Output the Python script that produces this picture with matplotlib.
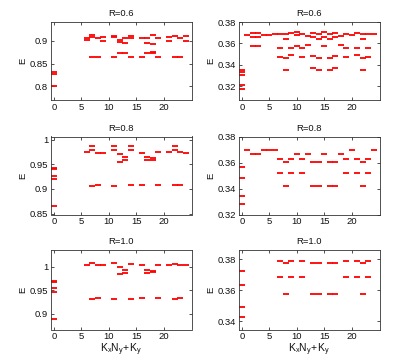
import matplotlib
matplotlib.use("Agg")
import matplotlib.pyplot as plt
from matplotlib.ticker import FuncFormatter

plt.rcParams['font.family'] = ['Liberation Sans', 'DejaVu Sans']
plt.rcParams['mathtext.default'] = 'regular'

titles = ["R=0.6", "R=0.6", "R=0.8", "R=0.8", "R=1.0", "R=1.0"]

# Panel 1 (R=0.6, left)
x_p1 = [0, 0, 0, 6, 6, 7, 7, 7, 8, 8, 9, 9, 11, 11, 11, 12, 12, 12, 13, 13, 13,
        14, 14, 14, 16, 16, 17, 17, 17, 18, 18, 18, 18, 19, 19, 21, 21, 22, 22,
        23, 23, 24, 24]
e_p1 = [0.832, 0.827, 0.800, 0.907, 0.901, 0.912, 0.908, 0.865, 0.906, 0.865,
        0.909, 0.900, 0.911, 0.909, 0.865, 0.901, 0.897, 0.872, 0.906, 0.896,
        0.872, 0.911, 0.907, 0.865, 0.906, 0.865, 0.906, 0.895, 0.872, 0.912,
        0.893, 0.876, 0.872, 0.905, 0.865, 0.909, 0.900, 0.911, 0.865, 0.905,
        0.865, 0.911, 0.899]

# Panel 2 (R=0.6, right)
x_p2 = [0, 0, 0, 0, 0, 1, 2, 2, 2, 3, 3, 3, 4, 5, 6, 7, 7, 7, 8, 8, 8, 8,
        9, 9, 9, 10, 10, 10, 11, 11, 11, 12, 12, 13, 13, 13, 13, 14, 14, 14, 14,
        15, 15, 15, 16, 16, 16, 16, 17, 17, 17, 17, 18, 18, 19, 19, 19, 20,
        21, 21, 21, 22, 22, 22, 22, 23, 23, 23, 24]
e_p2 = [0.3355, 0.3333, 0.3300, 0.3209, 0.3169, 0.3682, 0.3700, 0.3660, 0.3580,
        0.3700, 0.3660, 0.3580, 0.3680, 0.3680, 0.3688, 0.3688, 0.3554, 0.3477,
        0.3688, 0.3644, 0.3467, 0.3352, 0.3694, 0.3560, 0.3495, 0.3704, 0.3680,
        0.3576, 0.3688, 0.3554, 0.3477, 0.3670, 0.3589, 0.3694, 0.3663, 0.3480,
        0.3368, 0.3685, 0.3644, 0.3464, 0.3352, 0.3704, 0.3663, 0.3576, 0.3685,
        0.3641, 0.3467, 0.3352, 0.3694, 0.3657, 0.3480, 0.3368, 0.3670, 0.3589,
        0.3688, 0.3554, 0.3477, 0.3680, 0.3694, 0.3560, 0.3495, 0.3688, 0.3644,
        0.3467, 0.3352, 0.3688, 0.3554, 0.3477, 0.3688]

# Panel 3 (R=0.8, left)
x_p3 = [0, 0, 0, 0, 0, 6, 7, 7, 7, 8, 8, 9, 11, 11, 11, 12, 12, 13, 13,
        14, 14, 14, 16, 16, 17, 17, 18, 18, 19, 19, 21, 22, 22, 22, 23, 23, 24]
e_p3 = [0.943, 0.941, 0.926, 0.920, 0.866, 0.9755, 0.988, 0.980, 0.907, 0.974,
        0.909, 0.974, 0.988, 0.980, 0.907, 0.971, 0.956, 0.965, 0.960, 0.988,
        0.979, 0.9086, 0.974, 0.909, 0.9645, 0.960, 0.963, 0.960, 0.9755, 0.909,
        0.9755, 0.988, 0.979, 0.908, 0.9755, 0.909, 0.974]

# Panel 4 (R=0.8, right)
x_p4 = [0, 0, 0, 0, 1, 2, 3, 4, 5, 6, 7, 7, 8, 8, 9, 9, 10, 11, 11, 12,
        13, 13, 14, 14, 15, 16, 16, 17, 17, 18, 19, 19, 20, 21, 21, 22, 22,
        23, 23, 24]
e_p4 = [0.3564, 0.3480, 0.3340, 0.3280, 0.3700, 0.3665, 0.3665, 0.3700, 0.3700,
        0.3700, 0.3625, 0.3518, 0.3607, 0.3419, 0.3625, 0.3520, 0.3668, 0.3625,
        0.3518, 0.3663, 0.3607, 0.3419, 0.3607, 0.3419, 0.3668, 0.3607, 0.3419,
        0.3607, 0.3419, 0.3663, 0.3625, 0.3520, 0.3700, 0.3625, 0.3518, 0.3607,
        0.3419, 0.3625, 0.3518, 0.3700]

# Panel 5 (R=1.0, left)
x_p5 = [0, 0, 0, 0, 0, 6, 7, 7, 8, 8, 9, 11, 11, 12, 12, 13, 13, 14, 14,
        16, 16, 17, 17, 18, 18, 19, 19, 21, 22, 22, 23, 23, 24]
e_p5 = [0.969, 0.967, 0.954, 0.946, 0.889, 1.004, 1.008, 0.932, 1.003, 0.934,
        1.003, 1.008, 0.932, 0.999, 0.984, 0.993, 0.987, 1.006, 0.932, 1.003,
        0.934, 0.994, 0.987, 0.992, 0.988, 1.003, 0.934, 1.003, 1.006, 0.932,
        1.003, 0.934, 1.003]

# Panel 6 (R=1.0, right)
x_p6 = [0, 0, 0, 0, 7, 7, 8, 8, 9, 9, 11, 11, 13, 13, 14, 14, 16, 16,
        17, 17, 19, 19, 21, 21, 22, 22, 23, 23]
e_p6 = [0.3723, 0.3634, 0.3490, 0.3426, 0.3789, 0.3682, 0.3774, 0.3572, 0.3789,
        0.3682, 0.3789, 0.3682, 0.3772, 0.3572, 0.3772, 0.3572, 0.3772, 0.3572,
        0.3772, 0.3572, 0.3789, 0.3682, 0.3789, 0.3682, 0.3774, 0.3572, 0.3789,
        0.3682]

y_ticks = [[0.8, 0.85, 0.9], [0.32, 0.34, 0.36, 0.38], [0.85, 0.9, 0.95, 1.0],
           [0.32, 0.34, 0.36, 0.38], [0.9, 0.95, 1.0], [0.34, 0.36, 0.38]]
y_lims = [(0.770, 0.941), (0.307, 0.380), (0.848, 1.007),
          (0.320, 0.380), (0.866, 1.036), (0.3346, 0.3858)]
x_ticks = [0, 5, 10, 15, 20]

xs = [x_p1, x_p2, x_p3, x_p4, x_p5, x_p6]
es = [e_p1, e_p2, e_p3, e_p4, e_p5, e_p6]

W, H = 399, 358
fig = plt.figure(figsize=(W / 100, H / 100), dpi=100)

col_left = [51, 239]
col_w = 140.5
row_top = [22, 136.5, 250]
row_h = [78, 78, 79.5]

fmt = FuncFormatter(lambda v, p: f"{v:g}")
edge = '#333333'

for i in range(6):
    r, c = divmod(i, 2)
    ax = fig.add_axes([col_left[c] / W, 1 - (row_top[r] + row_h[r]) / H,
                       col_w / W, row_h[r] / H])
    ax.plot(xs[i], es[i], linestyle='none', marker='_', color='red',
            markersize=3.8, markeredgewidth=1.3)
    ax.set_xlim(-0.5, 25)
    ax.set_ylim(*y_lims[i])
    ax.set_xticks(x_ticks)
    ax.set_yticks(y_ticks[i])
    ax.yaxis.set_major_formatter(fmt)
    ax.tick_params(direction='in', length=2.5, width=0.6, labelsize=6.8,
                   top=True, right=True, colors=edge, labelcolor='#111111',
                   pad=2)
    for s in ax.spines.values():
        s.set_linewidth(0.6)
        s.set_color(edge)
    ax.set_title(titles[i], fontsize=6.8, pad=4, color='#111111')
    ax.set_ylabel('E', fontsize=6.8, labelpad=2, color='#111111')
    if r == 2:
        ax.set_xlabel(r'$K_xN_y\!+\!K_y$', fontsize=7.5, labelpad=0,
                      color='#111111')

fig.savefig('out.png', dpi=100)
